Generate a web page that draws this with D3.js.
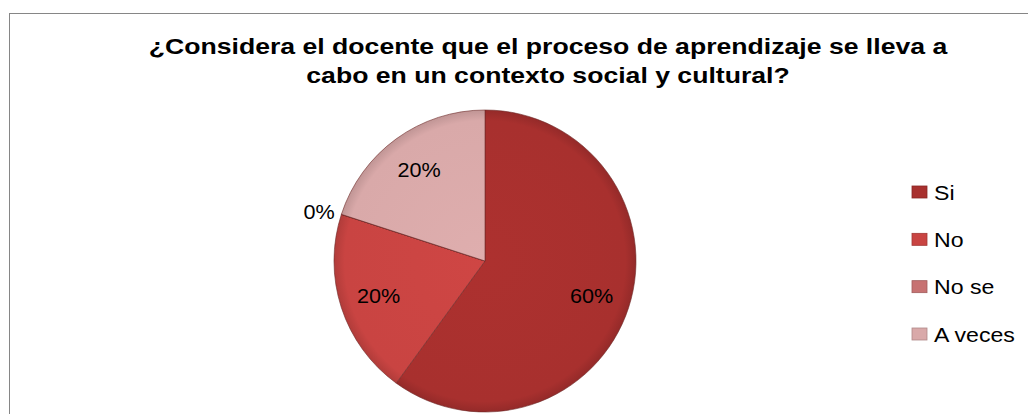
<!DOCTYPE html>
<html><head><meta charset="utf-8">
<script src="https://cdn.jsdelivr.net/npm/d3@7"></script>
<style>body{margin:0;background:#fff}svg{display:block}</style>
</head><body>
<svg id="c" width="1028" height="414"></svg>
<script>
const titleLines = ["¿Considera el docente que el proceso de aprendizaje se lleva a", "cabo en un contexto social y cultural?"];
const categories = ["Si", "No", "No se", "A veces"];
const values = [60, 20, 0, 20];
const labels = ["60%", "20%", "0%", "20%"];
const colors = ["#a8302e", "#c94442", "#c77272", "#d9a9a9"];

const svg = d3.select("#c");
svg.append("rect").attr("x", 9.5).attr("y", 13.5).attr("width", 1040).attr("height", 420)
  .attr("fill", "#fff").attr("stroke", "#868686").attr("stroke-width", 1);

const tg = svg.append("g").attr("transform", "translate(548,0) scale(1.21,1)");
tg.selectAll("text").data(titleLines).join("text")
  .attr("x", 0).attr("y", (d, i) => 54 + i * 29)
  .attr("text-anchor", "middle")
  .attr("font-family", "Liberation Sans, Arial, sans-serif")
  .attr("font-weight", "bold").attr("font-size", 22).attr("fill", "#000")
  .text(d => d);

const cx = 485, cy = 261, R = 151;
const data = categories.map((c, i) => ({cat: c, value: values[i], label: labels[i], color: colors[i]}));
const pie = d3.pie().sort(null).value(d => d.value);
const arcs = pie(data);
const arc = d3.arc().innerRadius(0).outerRadius(R);
const labelArc = d3.arc().innerRadius(112).outerRadius(112);
const outArc = d3.arc().innerRadius(158).outerRadius(158);

const defs = svg.append("defs");
data.forEach((d, i) => {
  const g = defs.append("radialGradient").attr("id", "g" + i)
    .attr("gradientUnits", "userSpaceOnUse").attr("cx", 0).attr("cy", 0).attr("r", R);
  const c = d3.color(d.color);
  g.append("stop").attr("offset", "0%").attr("stop-color", c.brighter(0.08));
  g.append("stop").attr("offset", "93%").attr("stop-color", d.color);
  g.append("stop").attr("offset", "100%").attr("stop-color", c.darker(0.35));
});

const pg = svg.append("g").attr("transform", `translate(${cx},${cy})`);
pg.selectAll("path").data(arcs).join("path")
  .attr("d", arc)
  .attr("fill", (d, i) => `url(#g${i})`)
  .attr("stroke", "#6e2a28").attr("stroke-width", 1).attr("stroke-opacity", 0.6);

pg.selectAll("text").data(arcs).join("text")
  .attr("transform", d => {
    const p = d.data.value === 0 ? outArc.centroid(d) : labelArc.centroid(d);
    return `translate(${p[0]},${p[1]}) scale(1.08,1)`;
  })
  .attr("text-anchor", d => d.data.value === 0 ? "end" : "middle")
  .attr("dy", "0.35em")
  .attr("font-family", "Liberation Sans, Arial, sans-serif")
  .attr("font-size", 20).attr("fill", "#000")
  .text(d => d.data.label);

const ly = d3.scalePoint().domain(categories).range([192, 334]);
const lg = svg.append("g");
const items = lg.selectAll("g").data(data).join("g")
  .attr("transform", d => `translate(912,${ly(d.cat)})`);
items.append("rect").attr("x", 0).attr("y", -6).attr("width", 15).attr("height", 12)
  .attr("fill", d => d.color).attr("stroke", d => d3.color(d.color).darker(0.6)).attr("stroke-width", 0.8);
items.append("text").attr("transform", "translate(22,0) scale(1.1,1)").attr("dy", "0.36em")
  .attr("font-family", "Liberation Sans, Arial, sans-serif")
  .attr("font-size", 21).attr("fill", "#000")
  .text(d => d.cat);
</script>
</body></html>
